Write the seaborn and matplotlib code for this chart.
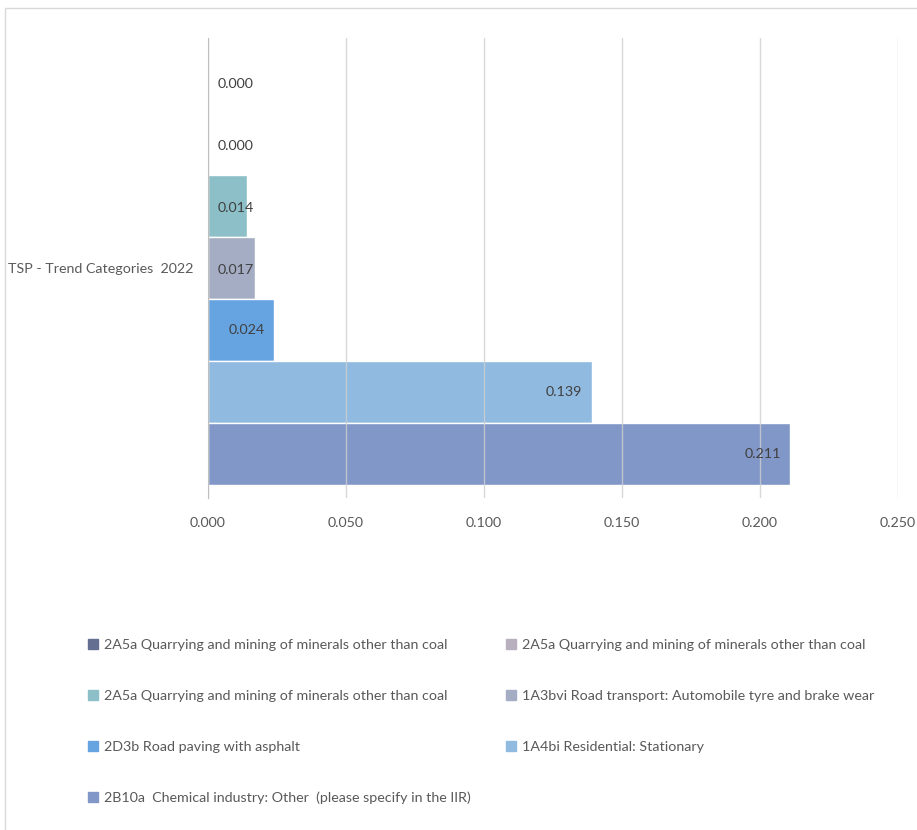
import pandas as pd
import matplotlib.pyplot as plt
import matplotlib.patches as mpatches
import seaborn as sns

# data
category = 'TSP - Trend Categories  2022'
sources = [
    '2A5a Quarrying and mining of minerals other than coal',
    '2A5a Quarrying and mining of minerals other than coal ',
    '2A5a Quarrying and mining of minerals other than coal  ',
    '1A3bvi Road transport: Automobile tyre and brake wear',
    '2D3b Road paving with asphalt',
    '1A4bi Residential: Stationary',
    '2B10a  Chemical industry: Other  (please specify in the IIR)',
]
values = [0.000, 0.000, 0.014, 0.017, 0.024, 0.139, 0.211]
colors = ['#636E91', '#B9B0BF', '#8CBFC8', '#A4ADC3', '#66A4E1', '#90BADF', '#8197C7']
x_ticks = [0.0, 0.05, 0.10, 0.15, 0.20, 0.25]

df = pd.DataFrame({'category': [category] * len(values), 'source': sources, 'value': values})

sns.set_style('white')
plt.rcParams['font.family'] = ['Lato', 'DejaVu Sans']

text_col = '#595959'
fs = 10.3
fig = plt.figure(figsize=(9.17, 8.3), dpi=100)
ax = fig.add_axes([208 / 917, 1 - 498 / 830, 690 / 917, 460 / 830])

sns.barplot(data=df, y='category', x='value', hue='source', hue_order=sources,
            palette=colors, orient='h', width=0.943, saturation=1, ax=ax, legend=False)

ax.set_xlim(0, 0.25)
ax.set_ylim(0.5, -0.5)
ax.set_xticks(x_ticks)
ax.set_xticklabels([f'{t:.3f}' for t in x_ticks], color=text_col, fontsize=fs)
ax.tick_params(axis='x', length=0, pad=14)
ax.tick_params(axis='y', length=0, pad=10.5)
ax.set_yticks([0])
ax.set_yticklabels([category], color=text_col, fontsize=fs)
ax.set_xlabel('')
ax.set_ylabel('')
ax.grid(axis='x', color='#CFCFCF', linewidth=1, zorder=5, alpha=0.8)
ax.set_axisbelow(False)
for s in ['top', 'right', 'bottom']:
    ax.spines[s].set_visible(False)
ax.spines['left'].set_color('#BFBFBF')
ax.spines['left'].set_zorder(6)

# value labels: inside end, clamped near the axis for short bars
bars = [p for p in ax.patches if p.get_height() > 0][:len(values)]
for p, v in zip(bars, values):
    yc = p.get_y() + p.get_height() / 2
    end_px = ax.transData.transform((v, yc))[0] - ax.transData.transform((0, yc))[0]
    if end_px > 55:
        ax.annotate(f'{v:.3f}', (v, yc), xytext=(-7, 0), textcoords='offset points',
                    ha='right', va='center', fontsize=fs, color='#404040', zorder=7)
    else:
        ax.annotate(f'{v:.3f}', (0, yc), xytext=(7, -1.5), textcoords='offset points',
                    ha='left', va='center', fontsize=fs, color='#404040', zorder=7)

# legend, filled row by row in two columns
handles = [mpatches.Patch(color=c, label=s.strip()) for c, s in zip(colors, sources)]
order = [0, 2, 4, 6, 1, 3, 5]
fig.legend([handles[i] for i in order], [handles[i].get_label() for i in order],
           loc='upper left', bbox_to_anchor=(88 / 917, 1 - 639 / 830), ncol=2,
           frameon=False, fontsize=fs, labelcolor=text_col, handlelength=0.7,
           handleheight=0.7, handletextpad=0.4, labelspacing=2.72, columnspacing=2.5,
           borderpad=0, borderaxespad=0)

# chart area border
fig.patches.append(mpatches.Rectangle((5 / 917, -0.01), 1, 1 - 8 / 830 + 0.01,
                                      transform=fig.transFigure, fill=False,
                                      edgecolor='#D9D9D9', linewidth=1))

fig.savefig('out.png', dpi=100)
